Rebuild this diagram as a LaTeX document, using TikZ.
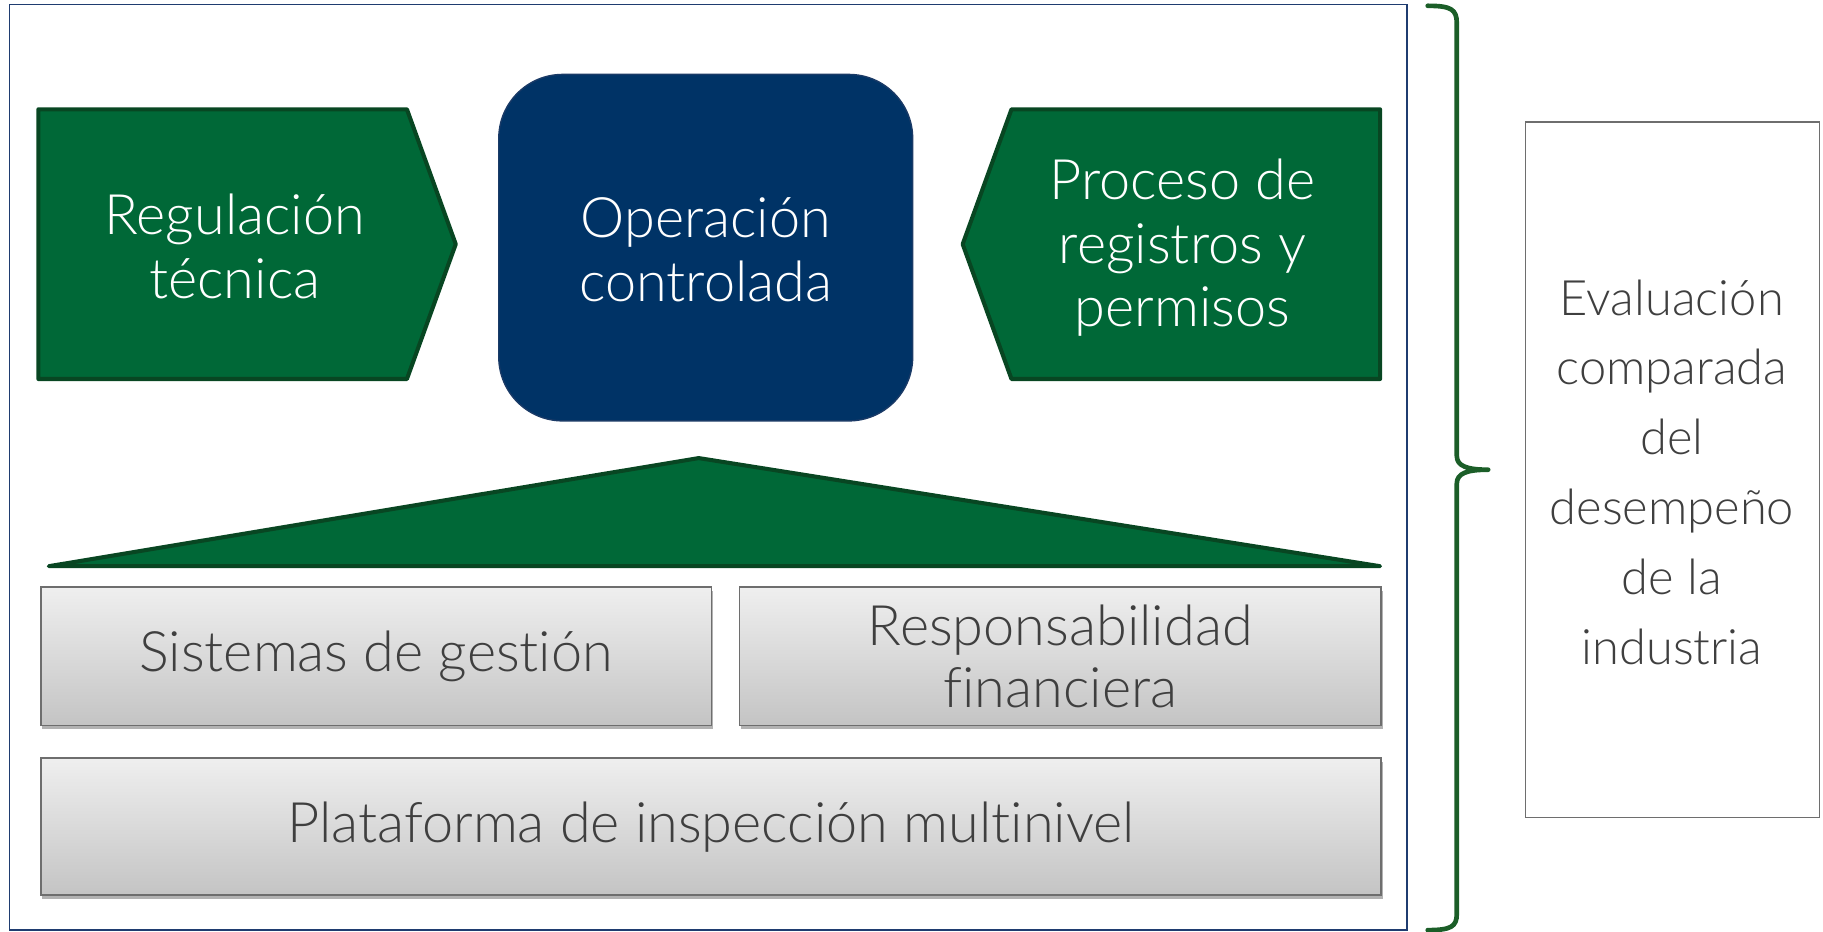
\documentclass[tikz,border=0pt]{standalone}
\usepackage{fontspec}
\setmainfont{Lato}[UprightFont=* Light, Ligatures={NoCommon}]
\usetikzlibrary{shadows}
\definecolor{gfill}{HTML}{006837}
\definecolor{gline}{HTML}{084622}
\definecolor{navyfill}{HTML}{003366}
\definecolor{navyline}{HTML}{1A3A66}
\definecolor{framecol}{HTML}{1F3C70}
\definecolor{bracecol}{HTML}{1B5E28}
\definecolor{txtgray}{HTML}{3F3F3F}
\definecolor{boxline}{HTML}{6E6E6E}
\definecolor{gtop}{HTML}{EFEFEF}
\definecolor{gbot}{HTML}{C4C4C4}
\tikzset{
  greenshape/.style={fill=gfill, draw=gline, line width=3.5pt, line join=round},
  whitetext/.style={text=white, align=center, inner sep=0pt, font=\fontsize{48}{55}\selectfont},
  graybox/.style={draw=boxline, line width=1.5pt, top color=gtop, bottom color=gbot,
    drop shadow={shadow xshift=1.5pt, shadow yshift=-3pt, opacity=0.3, fill=black},
    inner sep=0pt, align=center, text=txtgray, font=\fontsize{48}{53}\selectfont},
  sidebox/.style={draw=boxline, line width=1.2pt, fill=white, inner sep=0pt},
  sidetext/.style={text=txtgray, align=center, inner sep=0pt, font=\fontsize{42}{60}\selectfont},
  bracestyle/.style={draw=bracecol, line width=4pt, line cap=round, line join=round},
}
\begin{document}
\begin{tikzpicture}[x=1pt,y=-1pt]
\useasboundingbox (0,0) rectangle (1568,801);
% outer frame
\draw[framecol, line width=1.3pt] (8,4) rectangle (1210,800);
% Regulacion arrow
\path[greenshape] (33,94) -- (350,94) -- (392,210) -- (350,326) -- (33,326) -- cycle;
\node[whitetext] (reg) at (202,212) {Regulación\\técnica};
% Operacion
\path[fill=navyfill, draw=navyline, line width=1.2pt, rounded corners=55pt] (429,64) rectangle (785,362);
\node[whitetext] (op) at (607,215) {Operación\\controlada};
% Proceso arrow
\path[greenshape] (870,94) -- (1187,94) -- (1187,326) -- (870,326) -- (828,210) -- cycle;
\node[whitetext] (proc) at (1017,213) {Proceso de\\registros y\\permisos};
% triangle
\path[greenshape] (42,487) -- (601,394) -- (1187,487) -- cycle;
% gray boxes
\node[graybox, minimum width=577pt, minimum height=119pt] (sist) at (323.5,564.5) {Sistemas de gestión};
\node[graybox, minimum width=552pt, minimum height=119pt] (resp) at (912,564.5) {Responsabilidad\\financiera};
\node[graybox, minimum width=1153pt, minimum height=118pt] (plat) at (611.5,711) {Plataforma de inspección multinivel};
% brace
\coordinate (btop) at (1228,5);
\coordinate (btip) at (1280,404);
\coordinate (bbot) at (1228,800);
\draw[bracestyle] (btop) .. controls (1248,5) and (1253,8) .. (1253,20) -- (1253,392)
  .. controls (1253,401) and (1262,404) .. (btip)
  .. controls (1262,404) and (1253,407) .. (1253,416) -- (1253,786)
  .. controls (1253,797) and (1248,800) .. (bbot);
% side box
\path[sidebox] (1312,105) rectangle (1565,703);
\node[sidetext] (eval) at (1438,406) {Evaluación\\comparada\\del\\desempeño\\de la\\industria};
\end{tikzpicture}
\end{document}
